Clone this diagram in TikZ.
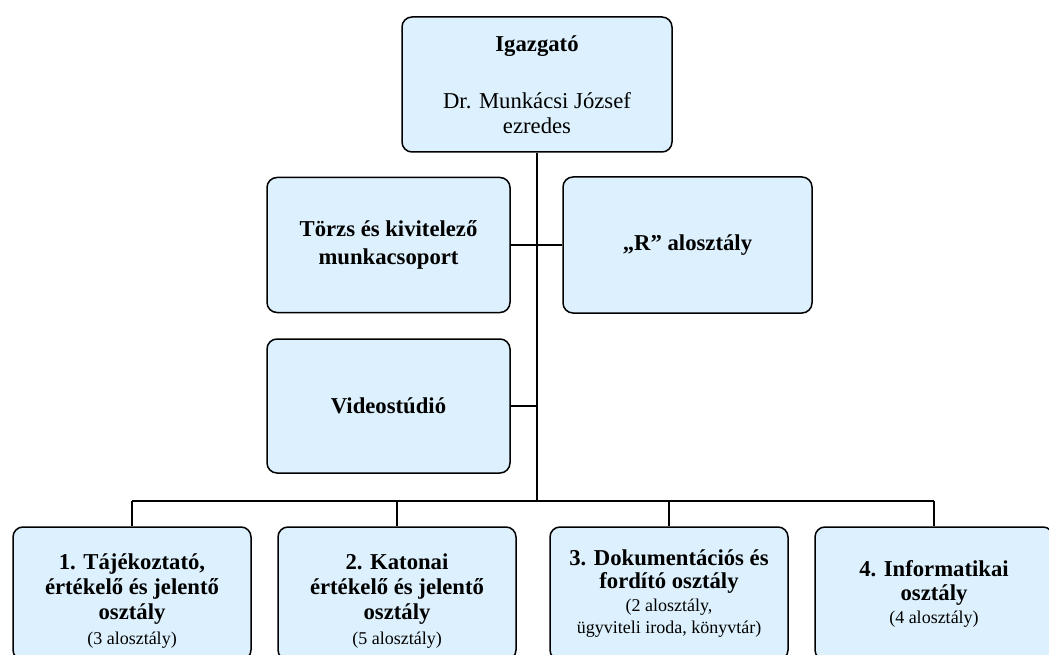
\documentclass[tikz,border=0pt]{standalone}
\usepackage{fontspec}
\setmainfont{Liberation Serif}
\definecolor{boxB}{HTML}{DCF0FD}
\newcommand{\bg}{\fontsize{22.7}{25}\selectfont\bfseries}
\newcommand{\rg}{\fontsize{22.7}{25}\selectfont}
\newcommand{\sm}{\fontsize{18}{21}\selectfont}

\begin{document}
\begin{tikzpicture}[x=1pt,y=-1pt,
 unit/.style={draw,line width=1.5pt,fill=boxB,rounded corners=10pt,align=center,inner sep=0pt,font=\rg},
 link/.style={line width=1.6pt}]
\path[use as bounding box] (0,0) rectangle (1049,655);
\clip (0,0) rectangle (1049,655);
% ---------- head
\node[unit,minimum width=270pt,minimum height=135pt] (dir) at (537,84.5) {\bg Igazgató\\[32pt]\rg Dr. Munkácsi József\\\rg ezredes};
% ---------- staff units beside the trunk
\node[unit,minimum width=243pt,minimum height=135pt] (torzs) at (388.5,245) {\bg Törzs és kivitelező\\[3pt]\bg munkacsoport};
\node[unit,minimum width=249pt,minimum height=136pt] (ralo) at (687.5,245) {\bg „R” alosztály};
\node[unit,minimum width=243pt,minimum height=134pt] (video) at (388.5,406) {\bg Videostúdió};
% ---------- departments
\node[unit,minimum width=238pt,minimum height=133pt] (b1) at (132,593.5) {\bg\rule{0pt}{30pt}1. Tájékoztató,\\\bg értékelő és jelentő\\\bg osztály\\\sm (3 alosztály)};
\node[unit,minimum width=238pt,minimum height=133pt] (b2) at (397,593.5) {\bg\rule{0pt}{30pt}2. Katonai\\\bg értékelő és jelentő\\\bg osztály\\\sm (5 alosztály)};
\node[unit,minimum width=238pt,minimum height=133pt] (b3) at (669,593.5) {\bg 3. Dokumentációs és\\[-2pt]\bg fordító osztály\\[-2pt]\sm (2 alosztály,\\[-3pt]\sm ügyviteli iroda, könyvtár)};
\node[unit,minimum width=238pt,minimum height=133pt] (b4) at (934,593.5) {\bg 4. Informatikai\\[-1pt]\bg osztály\\[-2pt]\sm (4 alosztály)};
% ---------- connectors
\coordinate (bus) at (537,501);
\draw[link] (dir.south) -- (dir.south |- bus);
\draw[link] (torzs.east) -- (torzs.east -| dir.south);
\draw[link] (ralo.west) -- (ralo.west -| dir.south);
\draw[link] (video.east) -- (video.east -| dir.south);
\draw[link] (b1.north |- bus) -- (b4.north |- bus);
\foreach \nm in {b1,b2,b3,b4} \draw[link] (\nm.north) -- (\nm.north |- bus);
\end{tikzpicture}
\end{document}
